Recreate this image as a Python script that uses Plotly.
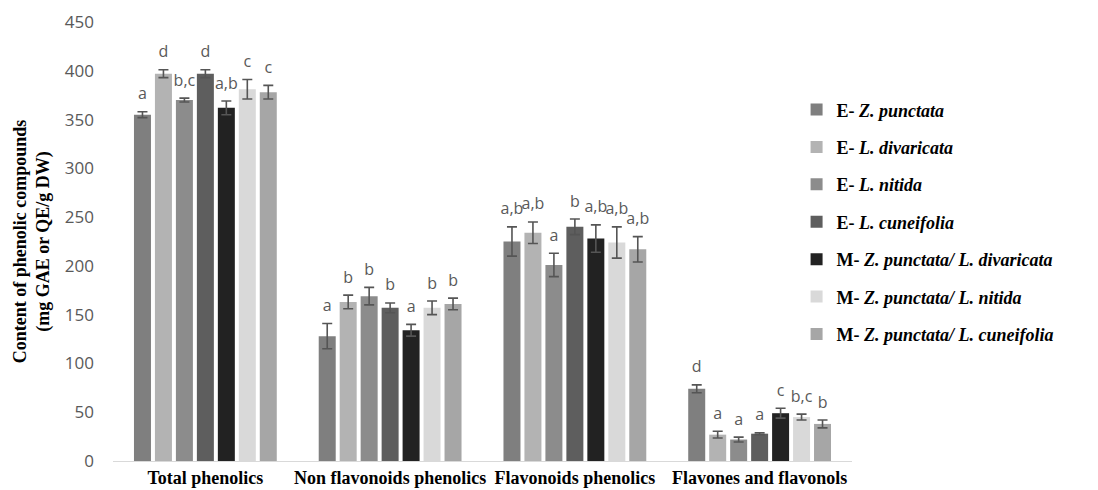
import plotly.graph_objects as go

categories = ["Total phenolics", "Non flavonoids phenolics", "Flavonoids phenolics", "Flavones and flavonols"]
series_names = [
    "<b>E- <i>Z. punctata</i></b>",
    "<b>E- <i>L. divaricata</i></b>",
    "<b>E- <i>L. nitida</i></b>",
    "<b>E- <i>L. cuneifolia</i></b>",
    "<b>M- <i>Z. punctata/ L. divaricata</i></b>",
    "<b>M- <i>Z. punctata/ L. nitida</i></b>",
    "<b>M- <i>Z. punctata/ L. cuneifolia</i></b>",
]
colors = ["#7f7f7f", "#b3b3b3", "#8c8c8c", "#5e5e5e", "#222222", "#d9d9d9", "#a6a6a6"]

# values per series: [Total, Non flavonoids, Flavonoids, Flavones]
e_zp = [355, 128, 225, 74]
e_ld = [397, 163, 234, 27]
e_ln = [370, 169, 201, 22]
e_lc = [397, 157, 240, 28]
m_ld = [362, 134, 228, 49]
m_ln = [381, 157, 224, 45]
m_lc = [378, 161, 217, 38]
values = [e_zp, e_ld, e_ln, e_lc, m_ld, m_ln, m_lc]

err_e_zp = [3, 13, 15, 4]
err_e_ld = [4, 7, 11, 3.5]
err_e_ln = [2, 9, 12, 2.5]
err_e_lc = [4, 5, 8, 1]
err_m_ld = [7, 6, 14, 5]
err_m_ln = [10, 7, 16, 3]
err_m_lc = [7, 6, 13, 4]
errors = [err_e_zp, err_e_ld, err_e_ln, err_e_lc, err_m_ld, err_m_ln, err_m_lc]

lab_e_zp = ["a", "a", "a,b", "d"]
lab_e_ld = ["d", "b", "a,b", "a"]
lab_e_ln = ["b,c", "b", "a", "a"]
lab_e_lc = ["d", "b", "b", "a"]
lab_m_ld = ["a,b", "a", "a,b", "c"]
lab_m_ln = ["c", "b", "a,b", "b,c"]
lab_m_lc = ["c", "b", "a,b", "b"]
letters = [lab_e_zp, lab_e_ld, lab_e_ln, lab_e_lc, lab_m_ld, lab_m_ln, lab_m_lc]

n = len(values)
pitch = 0.1135
bw = 0.092

fig = go.Figure()
tx, ty, tt = [], [], []
for j in range(n):
    xs = [i + (j - (n - 1) / 2) * pitch for i in range(len(categories))]
    fig.add_trace(go.Bar(
        x=xs, y=values[j], width=bw, name=series_names[j],
        marker=dict(color=colors[j], line=dict(width=0)),
        error_y=dict(type="data", array=errors[j], color="#555555", thickness=1.6, width=5),
        legendgroup=f"g{j}",
    ))
    for i in range(len(categories)):
        tx.append(xs[i])
        ty.append(values[j][i] + errors[j][i])
        tt.append(letters[j][i])

fig.add_trace(go.Scatter(
    x=tx, y=ty, text=tt, mode="markers+text", textposition="top center",
    marker=dict(size=12, color="rgba(0,0,0,0)"),
    textfont=dict(family="Open Sans", size=16, color="#595959"),
    showlegend=False, hoverinfo="skip", cliponaxis=False,
))

fig.update_layout(
    width=1090, height=482,
    margin=dict(l=105, r=246, t=14, b=29, autoexpand=False),
    plot_bgcolor="white", paper_bgcolor="white",
    barmode="overlay",
    legend=dict(
        x=0.925, y=0.842, xanchor="left", yanchor="top",
        font=dict(family="Liberation Serif", size=18, color="black"),
        tracegroupgap=11, bgcolor="rgba(0,0,0,0)",
    ),
    xaxis=dict(
        range=[-0.5, 3.5], tickmode="array", tickvals=list(range(len(categories))),
        ticktext=[f"<b>{c}</b>" for c in categories],
        tickfont=dict(family="Liberation Serif", size=18, color="black"),
        showgrid=False, zeroline=False, showline=True, linecolor="#d9d9d9", ticks="",
        automargin=False,
    ),
    yaxis=dict(
        range=[0, 450], dtick=50, showgrid=False, zeroline=False, showline=False,
        tickfont=dict(family="Open Sans", size=17, color="#595959"),
        ticklabelstandoff=18, automargin=False,
        title=dict(text="<b>Content of phenolic compounds<br>(mg GAE or QE/g DW)</b>",
                   font=dict(family="Liberation Serif", size=18, color="black"), standoff=10),
    ),
)

fig.write_html("out.html")
